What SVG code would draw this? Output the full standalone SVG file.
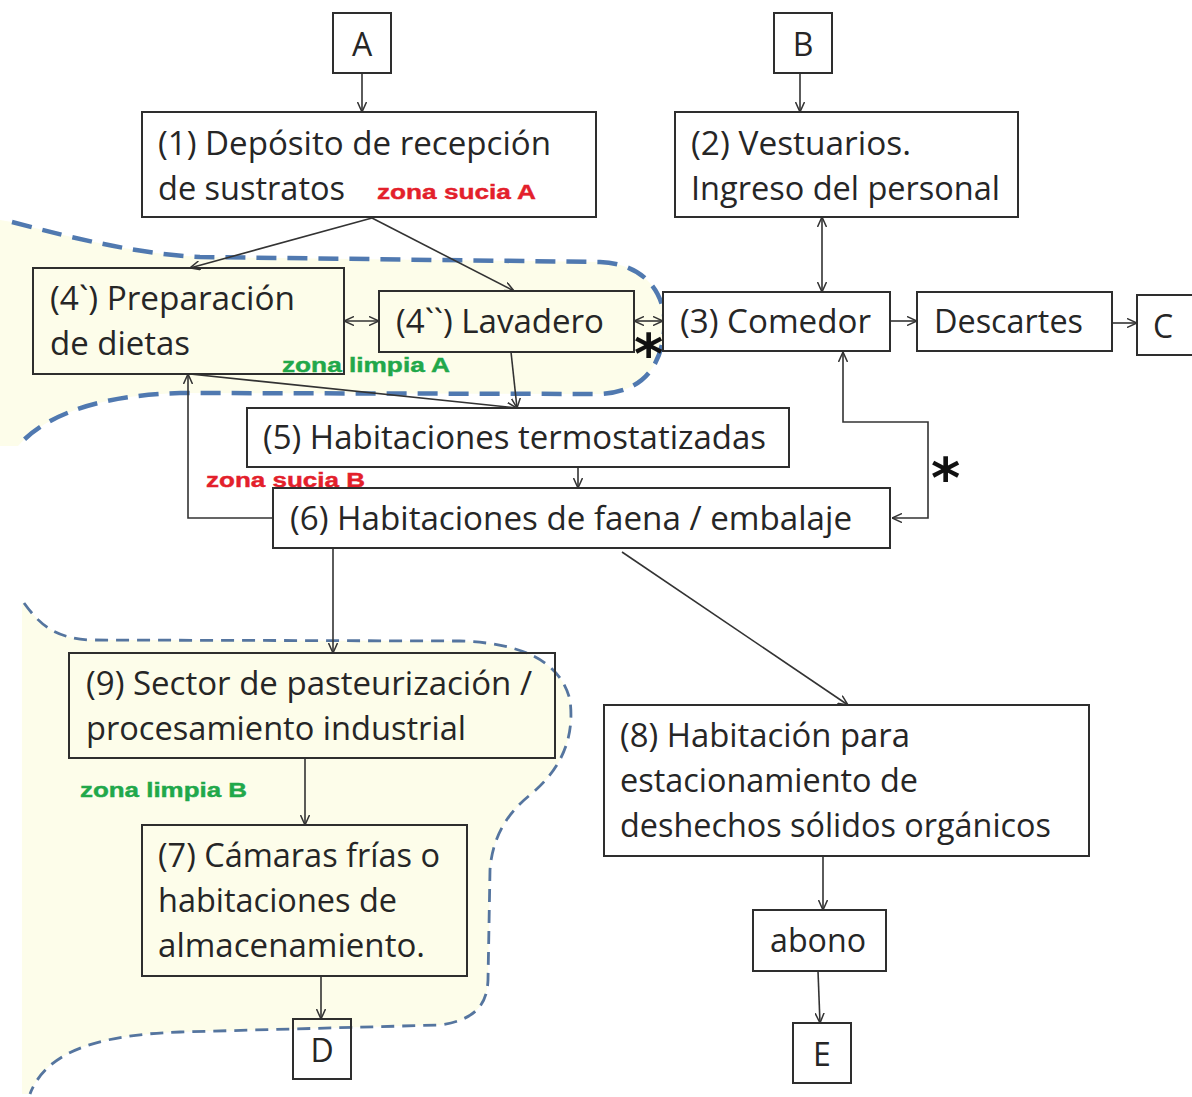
<svg xmlns="http://www.w3.org/2000/svg" width="1192" height="1097" viewBox="0 0 1192 1097">
<style>
.bx{fill:#fff;stroke:#2e2e2e;stroke-width:2}
.bz{fill:none;stroke:#2e2e2e;stroke-width:2}
.t{font-family:"Open Sans","Liberation Sans",sans-serif;font-size:32px;fill:#262626}
.red{font-family:"Liberation Sans",Arial,sans-serif;font-weight:bold;font-size:20px;fill:#e3202b;stroke:#e3202b;stroke-width:0.4}
.grn{font-family:"Liberation Sans",Arial,sans-serif;font-weight:bold;font-size:20px;fill:#21a84a;stroke:#21a84a;stroke-width:0.4}
.ast{font-family:"DejaVu Sans",sans-serif;font-weight:bold;font-size:56px;fill:#111}
.c{fill:none;stroke:#333;stroke-width:1.6}
.zf{fill:#fdfdea;stroke:none}
.zA{fill:none;stroke:#5079b0;stroke-width:4.5;stroke-dasharray:20 11}
.zB{fill:none;stroke:#55759f;stroke-width:2.8;stroke-dasharray:13 8}
</style>
<defs>
<marker id="ah" viewBox="0 0 10 10" refX="10" refY="5" markerWidth="10" markerHeight="10" markerUnits="userSpaceOnUse" orient="auto-start-reverse">
<path d="M0,0.5 L10,5 L0,9.5" fill="none" stroke="#333" stroke-width="1.5"/>
</marker>
</defs>
<rect width="1192" height="1097" fill="#fff"/>
<g id="zones">
<path class="zf" d="M0,220 L12,222 C80,240 140,254 200,257 L600,262 C650,264 668,300 664,332 C660,370 640,392 600,394 L180,393 C110,395 50,410 18,446 L0,446 Z"/>
<path class="zA" d="M12,222 C80,240 140,254 200,257 L600,262 C650,264 668,300 664,332 C660,370 640,392 600,394 L180,393 C110,395 50,410 18,446"/>
<path class="zf" d="M24,603 C40,625 55,638 90,640 L460,641 C520,643 560,660 570,700 C575,740 560,770 530,795 C505,815 492,840 490,870 L488,980 C487,1005 475,1020 440,1025 L180,1032 C90,1035 45,1055 30,1094 L22,1094 L22,603 Z"/>
<path class="zB" d="M24,603 C40,625 55,638 90,640 L460,641 C520,643 560,660 570,700 C575,740 560,770 530,795 C505,815 492,840 490,870 L488,980 C487,1005 475,1020 440,1025 L180,1032 C90,1035 45,1055 30,1094"/>
</g>
<g id="connectors">
<line class="c" x1="362" y1="73" x2="362" y2="112" marker-end="url(#ah)"/>
<line class="c" x1="800" y1="73" x2="800" y2="112" marker-end="url(#ah)"/>
<line class="c" x1="372" y1="218" x2="190" y2="268" marker-end="url(#ah)"/>
<line class="c" x1="372" y1="218" x2="514" y2="291" marker-end="url(#ah)"/>
<line class="c" x1="344" y1="321" x2="379" y2="321" marker-start="url(#ah)" marker-end="url(#ah)"/>
<line class="c" x1="634" y1="321" x2="663" y2="321" marker-start="url(#ah)" marker-end="url(#ah)"/>
<line class="c" x1="822" y1="217" x2="822" y2="292" marker-start="url(#ah)" marker-end="url(#ah)"/>
<line class="c" x1="890" y1="321" x2="917" y2="321" marker-end="url(#ah)"/>
<line class="c" x1="1112" y1="323" x2="1137" y2="323" marker-end="url(#ah)"/>
<line class="c" x1="511" y1="352" x2="517" y2="408" marker-end="url(#ah)"/>
<line class="c" x1="190" y1="374" x2="517" y2="408" marker-end="url(#ah)"/>
<line class="c" x1="578" y1="467" x2="578" y2="488" marker-end="url(#ah)"/>
<polyline class="c" points="273,518 188,518 188,374" marker-end="url(#ah)"/>
<polyline class="c" points="892,518 928,518 928,422 843,422 843,352" marker-start="url(#ah)" marker-end="url(#ah)"/>
<line class="c" x1="333" y1="548" x2="333" y2="653" marker-end="url(#ah)"/>
<line class="c" x1="622" y1="552" x2="848" y2="705" marker-end="url(#ah)"/>
<line class="c" x1="305" y1="758" x2="305" y2="825" marker-end="url(#ah)"/>
<line class="c" x1="321" y1="976" x2="321" y2="1019" marker-end="url(#ah)"/>
<line class="c" x1="823" y1="856" x2="823" y2="910" marker-end="url(#ah)"/>
<line class="c" x1="818" y1="971" x2="820" y2="1023" marker-end="url(#ah)"/>
</g>
<g id="nA"><rect class="bx" x="333" y="13" width="58" height="60"/><text class="t" x="362" y="56" text-anchor="middle">A</text></g>
<g id="nB"><rect class="bx" x="774" y="13" width="58" height="60"/><text class="t" x="803" y="56" text-anchor="middle">B</text></g>
<g id="n1"><rect class="bx" x="142" y="112" width="454" height="105"/>
<text class="t" x="158" y="155" textLength="393" lengthAdjust="spacingAndGlyphs">(1) Depósito de recepción</text>
<text class="t" x="158" y="200" textLength="187" lengthAdjust="spacingAndGlyphs">de sustratos</text>
<text class="red" x="377" y="199" textLength="159" lengthAdjust="spacingAndGlyphs">zona sucia A</text></g>
<g id="n2"><rect class="bx" x="675" y="112" width="343" height="105"/>
<text class="t" x="691" y="155" textLength="220" lengthAdjust="spacingAndGlyphs">(2) Vestuarios.</text>
<text class="t" x="691" y="200" textLength="309" lengthAdjust="spacingAndGlyphs">Ingreso del personal</text></g>
<g id="n4a"><rect class="bz" x="33" y="268" width="311" height="106"/>
<text class="t" x="50" y="310" textLength="245" lengthAdjust="spacingAndGlyphs">(4`) Preparación</text>
<text class="t" x="50" y="355" textLength="140" lengthAdjust="spacingAndGlyphs">de dietas</text>
<text class="grn" x="282" y="372" textLength="168" lengthAdjust="spacingAndGlyphs">zona limpia A</text></g>
<g id="n4b"><rect class="bz" x="379" y="291" width="255" height="61"/>
<text class="t" x="396" y="333" textLength="208" lengthAdjust="spacingAndGlyphs">(4``) Lavadero</text></g>
<g id="n3"><rect class="bx" x="663" y="292" width="227" height="59"/>
<text class="t" x="680" y="333" textLength="191" lengthAdjust="spacingAndGlyphs">(3) Comedor</text></g>
<g id="nDesc"><rect class="bx" x="917" y="292" width="195" height="59"/>
<text class="t" x="934" y="333" textLength="149" lengthAdjust="spacingAndGlyphs">Descartes</text></g>
<g id="nC"><rect class="bx" x="1137" y="295" width="60" height="60"/><text class="t" x="1153" y="338">C</text></g>
<text class="ast" x="634" y="373">*</text>
<text class="ast" x="931" y="497">*</text>
<g id="n5"><rect class="bx" x="247" y="408" width="542" height="59"/>
<text class="t" x="263" y="449" textLength="503" lengthAdjust="spacingAndGlyphs">(5) Habitaciones termostatizadas</text></g>
<text class="red" x="206" y="487" textLength="159" lengthAdjust="spacingAndGlyphs">zona sucia B</text>
<g id="n6"><rect class="bx" x="273" y="488" width="617" height="60"/>
<text class="t" x="290" y="530" textLength="562" lengthAdjust="spacingAndGlyphs">(6) Habitaciones de faena / embalaje</text></g>
<g id="n9"><rect class="bz" x="69" y="653" width="486" height="105"/>
<text class="t" x="86" y="695" textLength="446" lengthAdjust="spacingAndGlyphs">(9) Sector de pasteurización /</text>
<text class="t" x="86" y="740" textLength="380" lengthAdjust="spacingAndGlyphs">procesamiento industrial</text></g>
<text class="grn" x="80" y="797" textLength="167" lengthAdjust="spacingAndGlyphs">zona limpia B</text>
<g id="n7"><rect class="bz" x="142" y="825" width="325" height="151"/>
<text class="t" x="158" y="867" textLength="282" lengthAdjust="spacingAndGlyphs">(7) Cámaras frías o</text>
<text class="t" x="158" y="912" textLength="239" lengthAdjust="spacingAndGlyphs">habitaciones de</text>
<text class="t" x="158" y="957" textLength="267" lengthAdjust="spacingAndGlyphs">almacenamiento.</text></g>
<g id="n8"><rect class="bx" x="604" y="705" width="485" height="151"/>
<text class="t" x="620" y="747" textLength="290" lengthAdjust="spacingAndGlyphs">(8) Habitación para</text>
<text class="t" x="620" y="792" textLength="298" lengthAdjust="spacingAndGlyphs">estacionamiento de</text>
<text class="t" x="620" y="837" textLength="431" lengthAdjust="spacingAndGlyphs">deshechos sólidos orgánicos</text></g>
<g id="nAbono"><rect class="bx" x="753" y="910" width="133" height="61"/>
<text class="t" x="770" y="952" textLength="96" lengthAdjust="spacingAndGlyphs">abono</text></g>
<g id="nD"><rect class="bz" x="293" y="1019" width="58" height="60"/><text class="t" x="322" y="1062" text-anchor="middle">D</text></g>
<g id="nE"><rect class="bx" x="793" y="1023" width="58" height="60"/><text class="t" x="822" y="1066" text-anchor="middle">E</text></g>
</svg>
